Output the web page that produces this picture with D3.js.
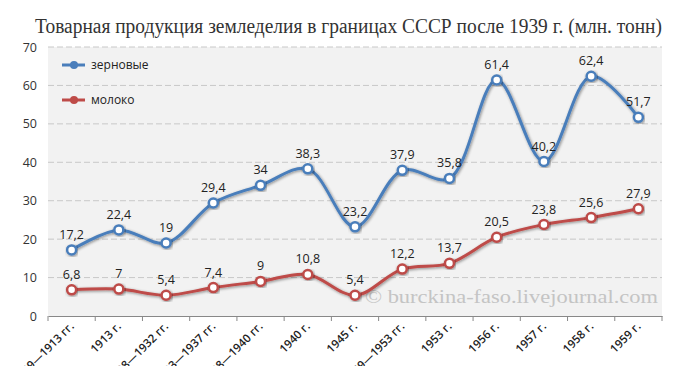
<!DOCTYPE html>
<html><head><meta charset="utf-8">
<script src="https://cdn.jsdelivr.net/npm/d3@7/dist/d3.min.js"></script>
<style>body{margin:0;background:#fff;}svg{display:block;}</style>
</head><body>
<svg id="c" width="700" height="366"></svg>
<script>
const categories = ["1909—1913 гг.","1913 г.","1928—1932 гг.","1933—1937 гг.","1938—1940  гг.","1940  г.","1945 г.","1949—1953 гг.","1953  г.","1956 г.","1957  г.","1958  г.","1959  г."];
const grain = [17.2,22.4,19,29.4,34,38.3,23.2,37.9,35.8,61.4,40.2,62.4,51.7];
const milk = [6.8,7,5.4,7.4,9,10.8,5.4,12.2,13.7,20.5,23.8,25.6,27.9];
const yTicks = [0,10,20,30,40,50,60,70];
const seriesNames = ["зерновые","молоко"];
const title = "Товарная  продукция  земледелия в границах СССР после 1939 г. (млн. тонн)";
const watermark = "© burckina-faso.livejournal.com";

const svg = d3.select("#c");
const L=48,R=662,T=47,B=316;
const x = d3.scaleBand().domain(categories).range([L,R]);
const y = d3.scaleLinear().domain([0,70]).range([B,T]);
const colors = ["#4a7ebb","#be4b48"];

const defs = svg.append("defs");
const f = defs.append("filter").attr("id","sh").attr("x","-20%").attr("y","-20%").attr("width","140%").attr("height","140%");
f.append("feGaussianBlur").attr("in","SourceAlpha").attr("stdDeviation",1.5).attr("result","b");
f.append("feOffset").attr("in","b").attr("dx",0.5).attr("dy",1).attr("result","o");
f.append("feComponentTransfer").attr("in","o").attr("result","o2").append("feFuncA").attr("type","linear").attr("slope",0.45);
const m = f.append("feMerge"); m.append("feMergeNode").attr("in","o2"); m.append("feMergeNode").attr("in","SourceGraphic");

svg.append("rect").attr("x",L).attr("y",T).attr("width",R-L).attr("height",B-T).attr("fill","#f2f2f2");

svg.append("text").attr("x",35).attr("y",33).attr("font-family","Liberation Serif, serif").attr("font-size",20)
  .attr("fill","#333").attr("textLength",627).attr("lengthAdjust","spacingAndGlyphs").text(title);

svg.append("g").selectAll("line").data(yTicks.filter(d=>d>0)).join("line")
  .attr("x1",L).attr("x2",R).attr("y1",d=>y(d)).attr("y2",d=>y(d))
  .attr("stroke","#c8c8c8").attr("stroke-width",1).attr("stroke-dasharray","6,3");

svg.append("g").selectAll("text").data(yTicks).join("text")
  .attr("x",37).attr("y",d=>y(d)+4.5).attr("text-anchor","end")
  .attr("font-family","Open Sans, sans-serif").attr("font-size",12.5).attr("fill","#333").text(d=>d);

svg.append("text").attr("x",365).attr("y",303).attr("font-family","Liberation Serif, serif").attr("font-size",19)
  .attr("fill","#c4c4c4").attr("textLength",293).attr("lengthAdjust","spacingAndGlyphs").text(watermark);

const xa = svg.append("g").attr("transform",`translate(0,${B})`)
  .call(d3.axisBottom(x).tickSize(0).tickFormat(""));
xa.select(".domain").attr("stroke","#888");
const bounds = categories.map(c=>x(c)).concat([R]);
xa.append("g").selectAll("line").data(bounds).join("line")
  .attr("x1",d=>d).attr("x2",d=>d).attr("y1",0).attr("y2",5).attr("stroke","#888");
svg.append("g").selectAll("text").data(categories).join("text")
  .attr("transform",d=>`translate(${x(d)+x.bandwidth()/2+3},${B+11}) rotate(-45)`)
  .attr("text-anchor","end").attr("font-family","Open Sans, sans-serif").attr("font-size",11.5).attr("font-weight",600)
  .attr("fill","#222").text(d=>d);

const cx = d=>x(d)+x.bandwidth()/2;
const line = d3.line().curve(d3.curveCatmullRom.alpha(0.5)).x((d,i)=>cx(categories[i])).y(d=>y(d));

[grain,milk].forEach((s,k)=>{
  const g = svg.append("g");
  g.append("path").datum(s).attr("d",line).attr("fill","none").attr("stroke",colors[k]).attr("stroke-width",3).attr("filter","url(#sh)");
  g.selectAll("circle").data(s).join("circle").attr("cx",(d,i)=>cx(categories[i])).attr("cy",d=>y(d)).attr("r",4.5)
    .attr("fill","#fff").attr("stroke",colors[k]).attr("stroke-width",2.5).attr("filter","url(#sh)");
  g.selectAll("text").data(s).join("text").attr("x",(d,i)=>cx(categories[i])).attr("y",d=>y(d)-11)
    .attr("text-anchor","middle").attr("font-family","Open Sans, sans-serif").attr("font-size",12.5).attr("fill","#222")
    .text(d=>String(d).replace(".",","));
});

seriesNames.forEach((n,k)=>{
  const ly = [65,100][k];
  svg.append("line").attr("x1",62).attr("x2",85).attr("y1",ly).attr("y2",ly).attr("stroke",colors[k]).attr("stroke-width",3);
  svg.append("circle").attr("cx",74).attr("cy",ly).attr("r",4).attr("fill",colors[k]);
  svg.append("text").attr("x",91).attr("y",ly+4).attr("font-family","Open Sans, sans-serif").attr("font-size",12).attr("fill","#222").text(n);
});
</script>
</body></html>
